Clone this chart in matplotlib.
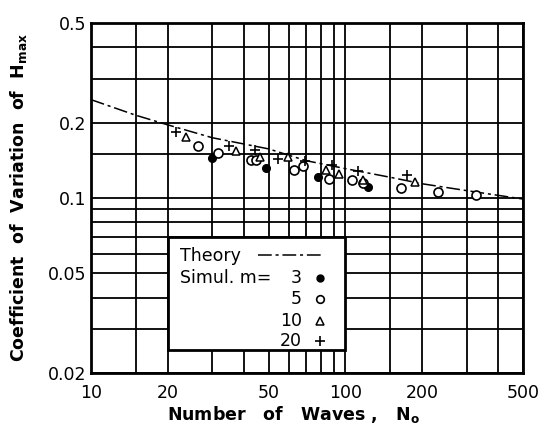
import matplotlib
matplotlib.use("Agg")
import matplotlib.pyplot as plt
from matplotlib.patches import Rectangle
from matplotlib.ticker import FixedLocator, NullFormatter

plt.rcParams['font.family'] = ['DejaVu Sans']
plt.rcParams['mathtext.default'] = 'regular'

# theory curve for the coefficient of variation of Hmax
theory_n = [10, 15, 20, 30, 50, 70, 100, 150, 200, 300, 500]
theory_cv = [0.247, 0.214, 0.196, 0.174, 0.157, 0.141, 0.131, 0.121, 0.114, 0.107, 0.099]

# simulation results, grouped by m
m3_n = [29.9, 48.8, 78.1, 122.8]
m3_cv = [0.1445, 0.1318, 0.1213, 0.1107]

m5_n = [26.3, 31.6, 42.6, 44.4, 62.8, 68.2, 86.3, 106.2, 117.0, 165.6, 231.5, 326.6]
m5_cv = [0.1613, 0.1519, 0.1418, 0.1418, 0.1294, 0.1342, 0.1191, 0.1180, 0.1150, 0.1097, 0.1057, 0.1028]

m10_n = [23.6, 37.2, 46.2, 59.3, 84.0, 94.9, 117.4, 188.0]
m10_cv = [0.1753, 0.1541, 0.1458, 0.1451, 0.1294, 0.1247, 0.1180, 0.1159]

m20_n = [21.6, 34.9, 44.2, 54.6, 69.4, 88.6, 112.2, 174.8]
m20_cv = [0.1827, 0.1613, 0.1555, 0.1425, 0.1399, 0.1354, 0.1282, 0.1236]

x_major = [10, 20, 50, 100, 200, 500]
x_minor = [15, 30, 40, 60, 70, 80, 90, 150, 300, 400]
y_major = [0.02, 0.05, 0.1, 0.2, 0.5]
y_minor = [0.03, 0.04, 0.06, 0.07, 0.08, 0.09, 0.15, 0.3, 0.4]
x_labels = ['10', '20', '50', '100', '200', '500']
y_labels = ['0.02', '0.05', '0.1', '0.2', '0.5']

fig = plt.figure(figsize=(5.44, 4.34), dpi=100)
ax = fig.add_axes([0.1673, 0.1406, 0.7941, 0.8065])
ax.set_xscale('log')
ax.set_yscale('log')
ax.set_xlim(10, 500)
ax.set_ylim(0.02, 0.5)

ax.xaxis.set_major_locator(FixedLocator(x_major))
ax.xaxis.set_minor_locator(FixedLocator(x_minor))
ax.yaxis.set_major_locator(FixedLocator(y_major))
ax.yaxis.set_minor_locator(FixedLocator(y_minor))
ax.set_xticklabels(x_labels)
ax.set_yticklabels(y_labels)
ax.xaxis.set_minor_formatter(NullFormatter())
ax.yaxis.set_minor_formatter(NullFormatter())
ax.tick_params(which='both', length=0, labelsize=12.5)
ax.tick_params(axis='x', pad=8)
ax.tick_params(axis='y', pad=3)

ax.grid(which='both', color='black', linewidth=1.3)
ax.set_axisbelow(True)
for s in ax.spines.values():
    s.set_linewidth(2)

dashdot = (0, (9, 2.5, 2, 2.5))
ax.plot(theory_n, theory_cv, color='black', lw=1.1, ls=dashdot, zorder=3)

ax.plot(m3_n, m3_cv, 'o', color='black', ms=5.5, zorder=4)
ax.plot(m5_n, m5_cv, 'o', mfc='white', mec='black', mew=1.2, ms=6.5, zorder=4)
ax.plot(m10_n, m10_cv, '^', mfc='white', mec='black', mew=1.1, ms=5.5, zorder=4)
ax.plot(m20_n, m20_cv, '+', color='black', mew=1.2, ms=7, zorder=4)

# key box sits on the grid between N=20 and N=100
ax.add_patch(Rectangle((20, 0.0247), 80, 0.07 - 0.0247, facecolor='white',
                       edgecolor='black', lw=2, zorder=5))
ax.text(0.206, 0.334, 'Theory', transform=ax.transAxes, fontsize=12.5,
        va='center', ha='left', zorder=6)
ax.plot([0.387, 0.535], [0.337, 0.337], transform=ax.transAxes, color='black',
        lw=1.1, ls=dashdot, zorder=6)
ax.text(0.206, 0.270, 'Simul. m=', transform=ax.transAxes, fontsize=12.5,
        va='center', ha='left', zorder=6)
key_m = ['3', '5', '10', '20']
key_y = [0.270, 0.211, 0.149, 0.091]
key_style = [
    dict(marker='o', color='black', ms=5),
    dict(marker='o', mfc='white', mec='black', mew=1.2, ms=5.5),
    dict(marker='^', mfc='white', mec='black', mew=1.1, ms=5.5),
    dict(marker='+', color='black', mew=1.2, ms=7),
]
for lab, yy, st in zip(key_m, key_y, key_style):
    ax.text(0.488, yy, lab, transform=ax.transAxes, fontsize=12.5,
            va='center', ha='right', zorder=6)
    ax.plot([0.530], [yy], transform=ax.transAxes, ls='none', zorder=6, **st)

fig.text(0.539, 0.021, 'Number   of   Waves ,   N$_{o}$', fontsize=12.5,
         fontweight='bold', ha='center', va='bottom')
fig.text(0.034, 0.544, 'Coefficient  of  Variation  of  H$_{max}$', fontsize=12.5,
         fontweight='bold', rotation=90, ha='center', va='center')

fig.savefig('out.png', dpi=100)
